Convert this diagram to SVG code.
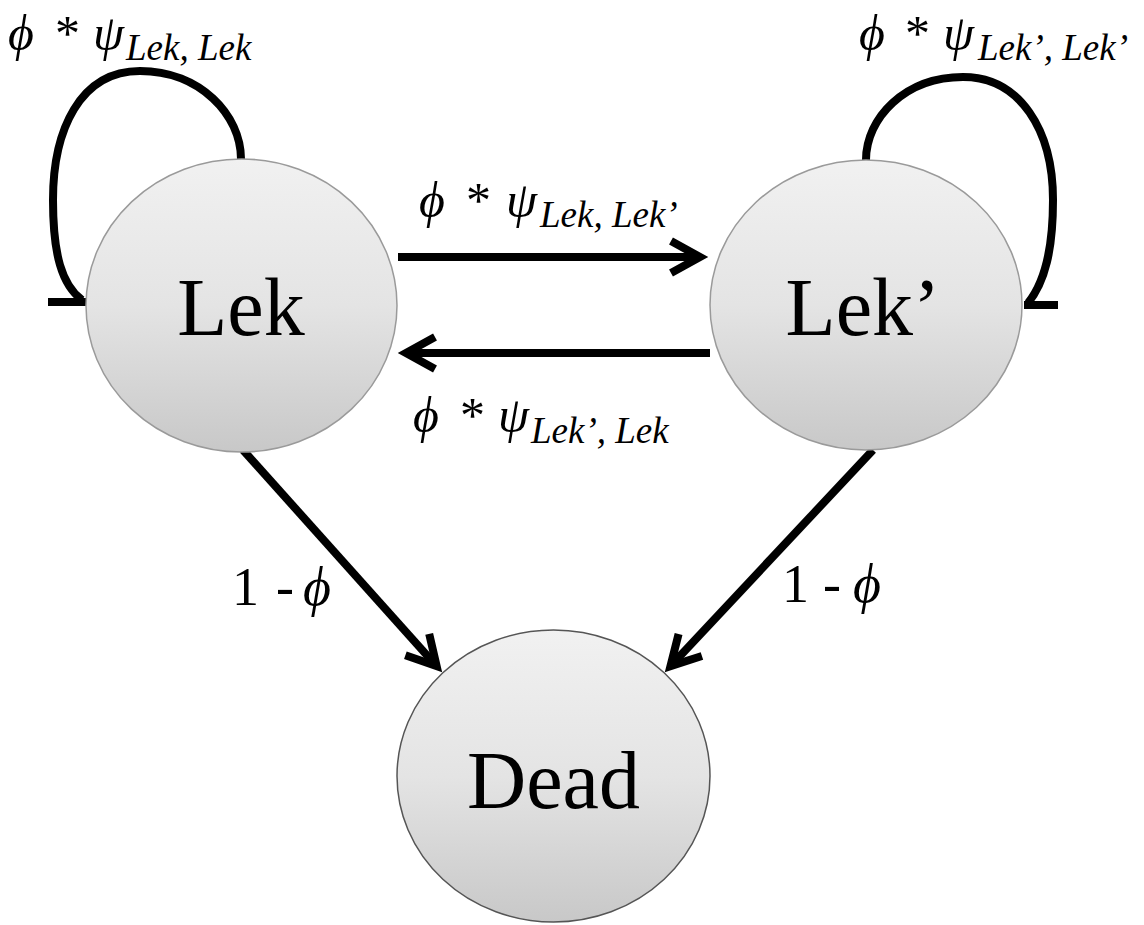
<svg xmlns="http://www.w3.org/2000/svg" width="1144" height="925" viewBox="0 0 1144 925">
<style>
.node{stroke:#9a9a9a;stroke-width:1.5;fill:url(#g)}
.dead{stroke:#555}
.ntxt{font-family:"Liberation Serif",serif;font-size:82px;fill:#000;text-anchor:middle}
.edge{fill:none;stroke:#000;stroke-width:8}
.lbl{font-family:"Liberation Serif","DejaVu Serif",serif;font-size:50px;fill:#000}
.it{font-style:italic}
.sub{font-family:"Liberation Serif",serif;font-size:37px;font-style:italic}
.one{font-family:"Liberation Serif","DejaVu Serif",serif;font-size:54px;fill:#000}
</style>
<defs>
<linearGradient id="g" x1="0" y1="0" x2="0" y2="1">
<stop offset="0" stop-color="#f1f1f1"/>
<stop offset="0.5" stop-color="#e4e4e4"/>
<stop offset="1" stop-color="#c8c8c8"/>
</linearGradient>
<marker id="ah" markerUnits="userSpaceOnUse" markerWidth="60" markerHeight="60" refX="0" refY="0" viewBox="-40 -30 60 60" orient="auto" overflow="visible">
<path d="M -27 -16 L 2 0 L -27 16" fill="none" stroke="#000" stroke-width="8" stroke-linejoin="miter"/>
</marker>
</defs>
<rect width="1144" height="925" fill="#fff"/>
<g id="connectors">
<path class="edge" d="M 241 159 C 241 115 200 71 140 71 C 80 71 53 130 53 200 C 53 255 62 285 82 300"/>
<path class="edge" d="M 48 302 H 86"/>
<path class="edge" d="M 866 160 C 866 118 905 77 963 77 C 1020 77 1053 130 1053 200 C 1053 250 1045 282 1028 303"/>
<path class="edge" d="M 1024 305 H 1058"/>
<path class="edge" d="M 398 257 L 698 257" marker-end="url(#ah)"/>
<path class="edge" d="M 710 353 L 408 353" marker-end="url(#ah)"/>
<path class="edge" d="M 243 450 L 435.3 664.6" marker-end="url(#ah)"/>
<path class="edge" d="M 873 450 L 671.8 664.7" marker-end="url(#ah)"/>
</g>
<g id="edge-labels">
<text class="lbl" y="50"><tspan class="it" x="8">ϕ</tspan><tspan x="55">*</tspan><tspan class="it" x="93">ψ</tspan><tspan class="sub" x="126" y="60">Lek, Lek</tspan></text>
<text class="lbl" y="50"><tspan class="it" x="859">ϕ</tspan><tspan x="905">*</tspan><tspan class="it" x="943">ψ</tspan><tspan class="sub" x="978" y="60">Lek’, Lek’</tspan></text>
<text class="lbl" y="217"><tspan class="it" x="419">ϕ</tspan><tspan x="466">*</tspan><tspan class="it" x="506">ψ</tspan><tspan class="sub" x="540" y="227">Lek, Lek’</tspan></text>
<text class="lbl" y="432"><tspan class="it" x="413">ϕ</tspan><tspan x="460">*</tspan><tspan class="it" x="498">ψ</tspan><tspan class="sub" x="531" y="443">Lek’, Lek</tspan></text>
<text class="one" y="605"><tspan x="232">1</tspan><tspan x="276">-</tspan><tspan class="it" x="303">ϕ</tspan></text>
<text class="one" y="602"><tspan x="782">1</tspan><tspan x="823">-</tspan><tspan class="it" x="853">ϕ</tspan></text>
</g>
<g id="node-lek">
<ellipse class="node" cx="241.5" cy="305.5" rx="155.5" ry="146.5"/>
<text class="ntxt" x="241" y="335">Lek</text>
</g>
<g id="node-lek2">
<ellipse class="node" cx="866" cy="305" rx="156" ry="145"/>
<text class="ntxt" x="863" y="335">Lek’</text>
</g>
<g id="node-dead">
<ellipse class="node dead" cx="553.5" cy="776" rx="156.5" ry="146"/>
<text class="ntxt" x="553.5" y="808">Dead</text>
</g>
</svg>
